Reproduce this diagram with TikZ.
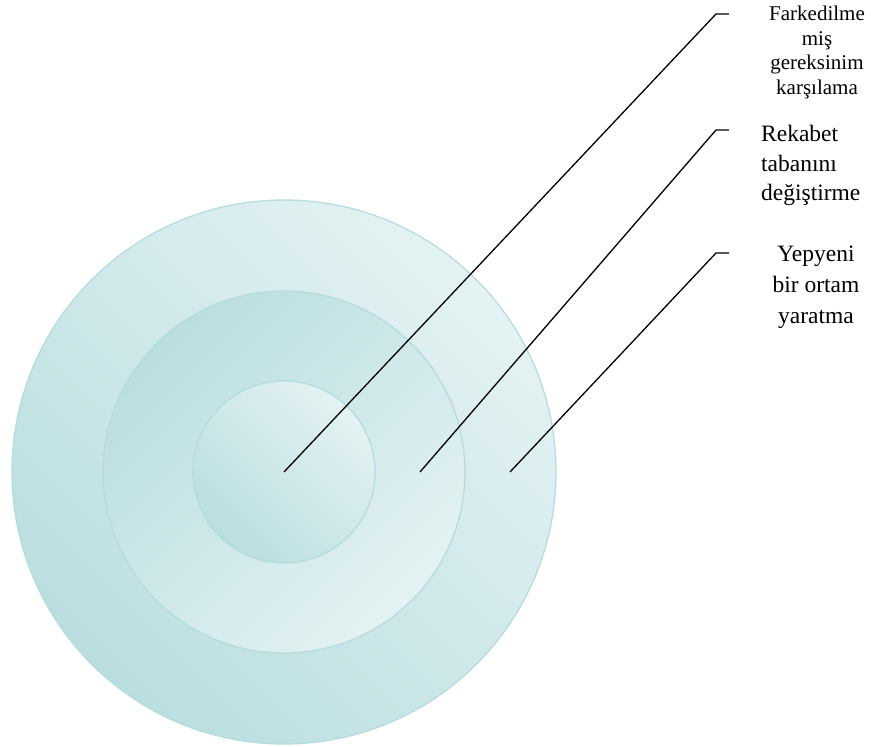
\documentclass[tikz,border=0pt]{standalone}
\usepackage{fontspec}
\setmainfont{Liberation Serif}
\definecolor{tealdark}{RGB}{186,222,224}
\definecolor{teallight}{RGB}{228,242,243}
\definecolor{ringline}{RGB}{180,219,222}
\tikzset{
  ring/.style={draw=ringline, line width=1.2pt},
  leader/.style={draw=black, line width=1.3pt},
  labelA/.style={font=\fontsize{21}{24.5}\selectfont, align=center, inner sep=0pt, anchor=north},
  labelB/.style={font=\fontsize{23.5}{29.5}\selectfont, align=left, inner sep=0pt, anchor=north west},
  labelC/.style={font=\fontsize{23.5}{31}\selectfont, align=center, inner sep=0pt, anchor=north},
}
\begin{document}
\begin{tikzpicture}[x=1pt,y=-1pt]
\useasboundingbox (0,0) rectangle (871,747);
% rings
\shade[ring, bottom color=tealdark, top color=teallight, shading angle=-45] (284,472) circle (272pt);
\shade[ring, top color=tealdark, bottom color=teallight, shading angle=45] (284,472) circle (181pt);
\shade[ring, bottom color=tealdark, top color=teallight, shading angle=-45] (284,472) circle (91pt);
% anchor points
\coordinate (p1) at (284,472);
\coordinate (p2) at (420,472);
\coordinate (p3) at (510,472);
\coordinate (k1) at (716,14);
\coordinate (k2) at (716,130);
\coordinate (k3) at (716,253);
\coordinate (h1) at (729,14);
\coordinate (h2) at (729,130);
\coordinate (h3) at (729,253);
% labels
\node[labelA] (t1) at (817,6) {Farkedilme\\miş\\gereksinim\\karşılama};
\node[labelB] (t2) at (761,125) {Rekabet\\tabanını\\değiştirme};
\node[labelC] (t3) at (816,246) {Yepyeni\\bir ortam\\yaratma};
% leaders
\draw[leader] (p1) -- (k1) -- (h1);
\draw[leader] (p2) -- (k2) -- (h2);
\draw[leader] (p3) -- (k3) -- (h3);
\end{tikzpicture}
\end{document}
